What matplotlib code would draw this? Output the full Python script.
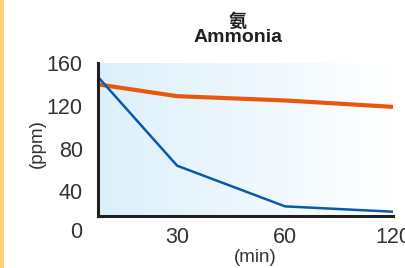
import numpy as np
import matplotlib
matplotlib.use("Agg")
import matplotlib.pyplot as plt
from matplotlib.patches import Rectangle

plt.rcParams['font.family'] = ['Liberation Sans', 'Noto Sans CJK SC', 'DejaVu Sans']

# x axis is not linear: 0, 30, 60, 120 sit at equal steps
tick_times = [0, 30, 60, 120]
tick_labels = ["0", "30", "60", "120"]
times = [8, 30, 60, 120]
orange_vals = [140, 129, 125, 119]
blue_vals = [147, 64, 26, 21]
y_ticks = [40, 80, 120, 160]

def to_pos(t):
    return np.interp(t, tick_times, np.arange(len(tick_times)))

fig = plt.figure(figsize=(4.05, 2.68), dpi=100)
fig.patch.set_facecolor("white")
fig.patches.append(Rectangle((0, 0), 4 / 405, 1, transform=fig.transFigure,
                             facecolor="#FFD27A", edgecolor="none"))

ax = fig.add_axes([98 / 405, 1 - 216 / 268, 295 / 405, 153 / 268])
x0 = to_pos(times[0])
ax.set_xlim(x0, 3)
ax.set_ylim(17, 160)

# light blue gradient background
grad = np.linspace(0, 1, 256).reshape(1, -1)
c0 = np.array([0.86, 0.94, 0.985])
c1 = np.array([1.0, 1.0, 1.0])
img = c0[None, None, :] * (1 - grad[..., None]) + c1[None, None, :] * grad[..., None]
ax.imshow(img, extent=[0, 1, 0, 1], transform=ax.transAxes, aspect="auto", zorder=0)

ax.plot(to_pos(times), orange_vals, color="#E8580C", lw=3.0, solid_capstyle="butt", zorder=3)
ax.plot(to_pos(times), blue_vals, color="#0A5AAA", lw=1.8, solid_capstyle="butt", zorder=4)

for s in ["top", "right"]:
    ax.spines[s].set_visible(False)
for s in ["left", "bottom"]:
    ax.spines[s].set_linewidth(2.2)
    ax.spines[s].set_color("#231F20")
    ax.spines[s].set_zorder(5)

ax.set_xticks(to_pos(tick_times[1:]))
ax.set_xticklabels(tick_labels[1:])
ax.set_yticks(y_ticks)
ax.set_yticklabels([str(v) for v in y_ticks])
ax.tick_params(axis="both", length=0, labelsize=15.5, labelcolor="#333333")
ax.tick_params(axis="y", pad=11)
ax.tick_params(axis="x", pad=8)
ax.text(-0.054, -0.111, "0", transform=ax.transAxes, ha="right", va="center",
        fontsize=15.5, color="#333333")

fig.text(238 / 405, 1 - 21 / 268, "氨", ha="center", va="center", fontsize=13,
         fontweight="bold", color="#231F20", family=['Noto Sans CJK SC', 'DejaVu Sans'])
fig.text(238 / 405, 1 - 38 / 268, "Ammonia", ha="center", va="center", fontsize=14,
         fontweight="bold", color="#231F20")
fig.text(37 / 405, 1 - 144 / 268, "(ppm)", ha="center", va="center", rotation=90,
         fontsize=13.5, color="#333333")
fig.text(255 / 405, 1 - 257 / 268, "(min)", ha="center", va="center",
         fontsize=13.5, color="#333333")

fig.savefig("out.png", dpi=100)
